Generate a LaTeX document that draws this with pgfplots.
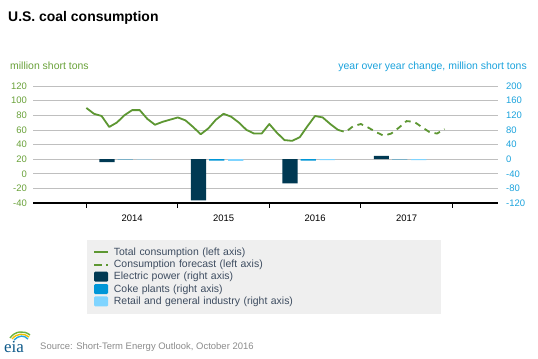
\documentclass[border=0pt]{standalone}
\usepackage{pgfplots}
\usepackage{pgfplotstable}
\pgfplotsset{compat=1.18}
\usepackage{fontspec}
\setmainfont{Liberation Sans}
\newfontfamily\serifeia{Liberation Serif}
\definecolor{cgreen}{HTML}{5D9732}
\definecolor{lgreen}{HTML}{6AA23A}
\definecolor{rblue}{HTML}{1BA3DD}
\definecolor{elec}{HTML}{003953}
\definecolor{coke}{HTML}{0096D7}
\definecolor{retail}{HTML}{7FD4FF}
\definecolor{gridc}{HTML}{BFBFBF}
\definecolor{legbg}{HTML}{EFEFEF}
\definecolor{legtext}{HTML}{3D4C60}
\definecolor{eiablue}{HTML}{0E5A8A}
\definecolor{logogreen}{HTML}{6DB33F}
\definecolor{logoyellow}{HTML}{F2C200}
\definecolor{logoblue}{HTML}{29A8E0}

\pgfplotsset{
  linelegend/.style={legend image code/.code={\draw[##1] (0bp,0bp) -- (14bp,0bp);}},
  boxlegend/.style={legend image code/.code={\fill[#1, rounded corners=1.2bp] (0bp,-4.5bp) rectangle (14bp,5.5bp);}},
}

\pgfplotstableread{
m v
0 90
1 82
2 79
3 64
4 70
5 80
6 87
7 87
8 75
9 67
10 71
11 74
12 77
13 73
14 64
15 54
16 62
17 74
18 82
19 78
20 70
21 60
22 55
23 55
24 68
25 56
26 46
27 45
28 50
29 65
30 79
31 77
32 68
33 60
}\histdata

\pgfplotstableread{
m v
33 60
34 57
35 65
36 68
37 63
38 57
39 52
40 55
41 63
42 72
43 71
44 64
45 57
46 55
47 61
}\fcstdata

\pgfplotstableread{
xe elec xc coke xr retail
2.7 -8 5.1 -0.5 7.6 -0.5
14.7 -113 17.1 -4 19.6 -5
26.7 -66 29.1 -4 31.6 -3
38.7 9 41.1 -0.5 43.6 -3
}\bardata

\begin{document}
\begin{tikzpicture}
\fill[white] (0,0) rectangle (538bp,359bp);
\path[use as bounding box] (0,0) rectangle (538bp,359bp);

\begin{axis}[
  at={(33bp,156bp)}, anchor=south west,
  scale only axis, width=465bp, height=117bp,
  xmin=-7, xmax=54, ymin=-40, ymax=120,
  axis x line*=bottom, axis y line*=left,
  x axis line style={black, line width=1.1bp},
  y axis line style={draw=none},
  ytick={-40,-20,0,20,40,60,80,100,120},
  ymajorgrids, grid style={gridc, line width=0.7bp},
  xtick={6,18,30,42}, xticklabels={2014,2015,2016,2017},
  major tick length=0pt,
  extra x ticks={0,12,24,36,48}, extra x tick labels={},
  extra x tick style={major tick length=5bp, tick align=outside, major tick style={black, line width=0.8bp}, grid=none},
  tick label style={font=\fontsize{9.5}{11}\selectfont},
  yticklabel style={text=lgreen, inner sep=0pt, xshift=-6bp},
  xticklabel style={text=black, inner sep=0pt, yshift=-11.5bp},
  /pgf/number format/assume math mode=true,
]
\addplot[cgreen, line width=1.8bp, line join=round] table[x=m, y=v] {\histdata};
\addplot[cgreen, line width=1.8bp, dash pattern=on 6bp off 5bp] table[x=m, y=v] {\fcstdata};
\end{axis}

\begin{axis}[
  at={(33bp,156bp)}, anchor=south west,
  scale only axis, width=465bp, height=117bp,
  xmin=-7, xmax=54, ymin=-120, ymax=200,
  axis x line=none, axis y line*=right,
  y axis line style={draw=none},
  ytick={-120,-80,-40,0,40,80,120,160,200},
  major tick length=0pt,
  tick label style={font=\fontsize{9.5}{11}\selectfont},
  yticklabel style={text=rblue, inner sep=0pt, xshift=8bp},
  /pgf/number format/assume math mode=true,
  legend cell align=left,
  legend style={at={(axis description cs:0.116,-0.316)}, anchor=north west,
    fill=legbg, draw=none, inner sep=6bp, row sep=0pt, column sep=4bp,
    font=\fontsize{10.5}{12}\selectfont, text=legtext,
    nodes={inner sep=1bp, text height=8bp, text depth=2.4bp, text width=320bp, align=left}},
]
\addlegendimage{cgreen, line width=1.8bp, linelegend}
\addlegendentry{Total consumption (left axis)}
\addlegendimage{cgreen, line width=1.8bp, dash pattern=on 7.5bp off 4.5bp, linelegend}
\addlegendentry{Consumption forecast (left axis)}
\addplot[ybar, bar width=2, bar shift=0pt, fill=elec, draw=none, boxlegend=elec]
  table[x=xe, y=elec] {\bardata};
\addlegendentry{Electric power (right axis)}
\addplot[ybar, bar width=2, bar shift=0pt, fill=coke, draw=none, boxlegend=coke]
  table[x=xc, y=coke] {\bardata};
\addlegendentry{Coke plants (right axis)}
\addplot[ybar, bar width=2, bar shift=0pt, fill=retail, draw=none, boxlegend=retail]
  table[x=xr, y=retail] {\bardata};
\addlegendentry{Retail and general industry (right axis)}
\end{axis}

\node[anchor=base west, inner sep=0pt, font=\bfseries\fontsize{14}{16}\selectfont] at (8bp,337bp) {U.S. coal consumption};
\node[anchor=base west, inner sep=0pt, text=lgreen, font=\fontsize{10.5}{12}\selectfont] at (10bp,289bp) {million short tons};
\node[anchor=base east, inner sep=0pt, text=rblue, font=\fontsize{10.5}{12}\selectfont] at (527bp,289bp) {year over year change, million short tons};
\node[anchor=base west, inner sep=0pt, text=black!45, font=\fontsize{9.5}{11}\selectfont] at (40bp,10bp) {Source: Short-Term Energy Outlook, October 2016};
% eia logo
\node[anchor=base west, inner sep=0pt, text=eiablue, font=\serifeia\fontsize{17}{17}\selectfont] at (4bp,7bp) {eia};
\draw[color=logogreen, line width=1.4bp] (10bp,21bp) .. controls (15bp,28bp) and (24bp,29bp) .. (30bp,24bp);
\draw[color=logoyellow, line width=1.4bp] (12bp,20bp) .. controls (17bp,26bp) and (24bp,26bp) .. (29bp,22bp);
\draw[color=logoblue, line width=1.4bp] (14bp,19bp) .. controls (19bp,24bp) and (24bp,24bp) .. (28bp,20bp);
\end{tikzpicture}
\end{document}
